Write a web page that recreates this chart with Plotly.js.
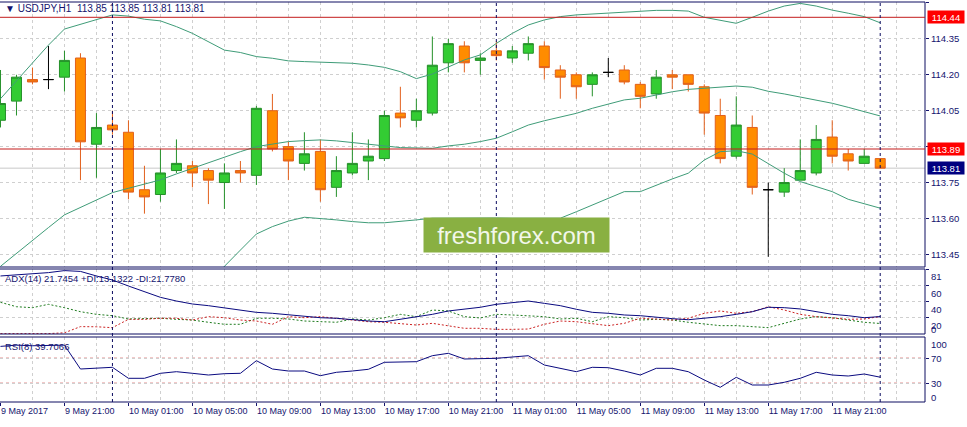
<!DOCTYPE html>
<html><head><meta charset="utf-8">
<script src="https://cdn.plot.ly/plotly-3.0.1.min.js"></script>
<style>html,body{margin:0;padding:0;background:#fff;}#chart{width:967px;height:427px;}</style>
</head><body><div id="chart"></div>
<script>
// ---- data (hourly candles, 9 May 2017 17:00 .. 12 May 2017 00:00) ----
const tickIdx = [0,4,8,12,16,20,24,28,32,36,40,44,48,52];
const tickLabels = ['9 May 2017','9 May 21:00','10 May 01:00','10 May 05:00','10 May 09:00','10 May 13:00','10 May 17:00','10 May 21:00','11 May 01:00','11 May 05:00','11 May 09:00','11 May 13:00','11 May 17:00','11 May 21:00'];
const open = [114.01,114.09,114.18,114.18,114.19,114.27,113.91,113.99,113.96,113.72,
  113.70,113.80,113.82,113.80,113.75,113.80,113.78,114.05,113.90,113.83,
  113.88,113.73,113.79,113.84,113.85,114.04,114.01,114.04,114.25,114.32,
  114.26,114.30,114.27,114.29,114.32,114.22,114.20,114.16,114.21,114.22,
  114.16,114.12,114.20,114.20,114.15,114.03,113.86,113.98,113.72,113.71,
  113.76,113.79,113.94,113.87,113.83,113.85];
const high = [114.22,114.20,114.23,114.32,114.30,114.29,114.04,114.05,114.01,113.82,
  113.89,113.93,113.84,113.81,113.83,113.84,114.07,114.12,113.92,113.96,
  113.93,113.86,113.96,113.93,114.05,114.15,114.10,114.36,114.35,114.34,
  114.29,114.34,114.32,114.36,114.34,114.24,114.21,114.21,114.27,114.24,
  114.17,114.22,114.22,114.20,114.16,114.10,114.11,114.03,113.75,113.81,
  113.93,113.99,114.01,113.89,113.89,113.85];
const low = [113.98,114.03,114.16,114.14,114.13,113.76,113.77,113.95,113.68,113.62,
  113.67,113.79,113.73,113.66,113.64,113.75,113.74,113.88,113.76,113.80,
  113.67,113.69,113.78,113.76,113.84,113.98,113.98,114.03,114.21,114.21,
  114.20,114.26,114.25,114.26,114.18,114.10,114.10,114.11,114.19,114.16,
  114.06,114.10,114.14,114.13,113.95,113.83,113.85,113.70,113.44,113.69,
  113.76,113.78,113.83,113.80,113.83,113.81];
const close = [114.08,114.19,114.17,114.18,114.26,113.92,113.98,113.97,113.71,113.69,
  113.79,113.83,113.79,113.76,113.79,113.79,114.06,113.89,113.84,113.87,
  113.72,113.80,113.83,113.86,114.03,114.02,114.05,114.24,114.33,114.25,
  114.27,114.28,114.30,114.33,114.23,114.19,114.15,114.20,114.21,114.17,
  114.11,114.19,114.19,114.16,114.04,113.85,113.99,113.73,113.72,113.75,
  113.80,113.93,113.86,113.84,113.86,113.81];
const bbUpper = [114.100,114.175,114.250,114.324,114.391,114.411,114.430,114.450,114.445,114.432,
  114.425,114.401,114.373,114.338,114.303,114.293,114.276,114.269,114.258,114.255,
  114.253,114.252,114.248,114.241,114.231,114.213,114.184,114.203,114.234,114.262,
  114.283,114.331,114.373,114.408,114.429,114.443,114.450,114.454,114.459,114.463,
  114.465,114.469,114.469,114.466,114.440,114.429,114.415,114.440,114.466,114.487,
  114.498,114.487,114.470,114.457,114.443,114.417];
const bbMiddle = [113.400,113.455,113.510,113.562,113.615,113.647,113.677,113.708,113.726,113.743,
  113.761,113.786,113.810,113.833,113.858,113.879,113.900,113.911,113.921,113.925,
  113.928,113.924,113.916,113.908,113.903,113.896,113.893,113.893,113.903,113.910,
  113.921,113.935,113.962,113.990,114.008,114.022,114.039,114.060,114.078,114.095,
  114.102,114.116,114.129,114.139,114.144,114.148,114.153,114.148,114.131,114.120,
  114.108,114.095,114.081,114.064,114.046,114.028];
const bbLower = [null,null,null,null,null,null,null,null,null,null,
  null,null,null,113.310,113.400,113.468,113.535,113.566,113.589,113.605,
  113.601,113.594,113.587,113.582,113.582,113.587,113.594,113.601,113.602,113.602,
  113.602,113.602,113.601,113.601,113.601,113.601,113.628,113.656,113.684,113.712,
  113.712,113.740,113.765,113.789,113.844,113.879,113.883,113.869,113.830,113.789,
  113.754,113.733,113.712,113.680,113.660,113.643];
const adx = [72.3,73.5,74.8,76.5,79.0,78.0,72.3,67.3,59.8,52.7,
  45.7,41.1,37.4,35.3,32.8,29.9,27.0,25.8,23.7,21.6,
  20.3,19.6,17.8,16.2,15.3,18.3,21.2,24.5,28.7,31.2,
  33.3,37.0,39.5,41.1,38.2,35.3,30.8,27.0,25.8,23.7,
  22.8,20.8,19.1,17.8,19.6,21.6,24.5,27.8,33.3,32.8,
  31.2,27.8,24.5,22.8,20.3,21.7];
const plusDI = [39.5,34.0,32.8,37.0,32.8,27.8,24.5,22.8,18.7,19.6,
  19.6,18.3,17.4,14.6,12.1,12.1,19.6,19.6,18.7,16.2,
  15.3,14.6,18.7,17.4,20.3,24.5,21.6,29.9,28.7,21.6,
  20.0,24.5,23.7,22.8,21.6,18.7,19.6,15.3,21.6,20.3,
  17.4,18.3,17.4,14.6,12.1,10.4,10.4,9.2,7.9,13.3,
  18.7,21.6,20.3,17.4,14.6,13.1];
const minusDI = [0.5,0.5,0.5,0.5,1.5,9.2,9.0,7.9,18.3,18.3,
  19.6,19.6,17.4,21.6,20.3,17.4,16.2,12.1,21.6,20.3,
  21.6,19.6,17.4,15.3,14.6,13.3,11.2,13.3,10.4,7.1,
  7.1,5.8,5.8,6.2,12.1,16.2,15.3,13.3,10.4,13.3,
  19.6,18.7,17.4,19.6,25.8,28.7,25.8,27.8,34.0,29.9,
  24.5,21.6,20.3,18.3,18.7,21.8];
const rsi = [89,91,90,90,91,52.8,54.4,55.5,37.9,37.9,
  45.9,48.5,45.9,43.2,45.3,45.9,66.1,52.8,49.6,49.6,
  42.1,47.5,49.6,52.3,63.5,63.5,64.5,74.1,77.9,68.8,
  69.5,69.9,72.0,74.1,59.2,53.9,48.5,55.5,54.9,49.6,
  43.2,53.9,53.9,48.5,35.2,23.5,39.5,27.2,27.2,31.5,
  37.9,47.5,43.2,41.6,44.8,39.7];
const priceTicks = [113.45,113.60,113.75,113.90,114.05,114.20,114.35,114.50];
const priceTickText = ['113.45','113.60','113.75','','114.05','114.20','114.35','114.50'];
const levels = [114.44, 113.89];
const bid = 113.81;
const separators = [7, 31, 55];
const rsiLevels = [70, 30];
const adxTicks = [20, 40, 60, 81];
const rsiTicks = [30, 70];
const header = '▼ USDJPY,H1  113.85 113.85 113.81 113.81';
const adxLabel = 'ADX(14) 21.7454 +DI:13.1322 -DI:21.7780';
const rsiLabel = 'RSI(8) 39.7066';

// ---- styles ----
const navy = '#14146e';
const grid = '#cfcfcf';
const FONT = 'Liberation Sans, Arial, sans-serif';
const FS = 9.5;

const xs = open.map((_, i) => i);
const idxBody = xs.filter(i => open[i] !== close[i]);
const idxDoji = xs.filter(i => open[i] === close[i]);
const pick = (a, idx) => idx.map(i => a[i]);

const traces = [
  {type:'candlestick', x:pick(xs,idxBody), open:pick(open,idxBody), high:pick(high,idxBody),
   low:pick(low,idxBody), close:pick(close,idxBody), xaxis:'x', yaxis:'y', whiskerwidth:0,
   increasing:{line:{color:'#25902a', width:1}, fillcolor:'#33cc33'},
   decreasing:{line:{color:'#e2601c', width:1}, fillcolor:'#ff8c00'}, hoverinfo:'none'},
  {type:'candlestick', x:pick(xs,idxDoji), open:pick(open,idxDoji), high:pick(high,idxDoji),
   low:pick(low,idxDoji), close:pick(close,idxDoji), xaxis:'x', yaxis:'y', whiskerwidth:0,
   increasing:{line:{color:'#000000', width:1}, fillcolor:'#000000'},
   decreasing:{line:{color:'#000000', width:1}, fillcolor:'#000000'}, hoverinfo:'none'},
  {type:'scatter', mode:'lines', x:xs, y:bbUpper, line:{color:'#3f9c78', width:1}, xaxis:'x', yaxis:'y', hoverinfo:'none'},
  {type:'scatter', mode:'lines', x:xs, y:bbMiddle, line:{color:'#3f9c78', width:1}, xaxis:'x', yaxis:'y', hoverinfo:'none'},
  {type:'scatter', mode:'lines', x:xs, y:bbLower, line:{color:'#3f9c78', width:1}, xaxis:'x', yaxis:'y', hoverinfo:'none'},
  {type:'scatter', mode:'lines', x:xs, y:plusDI, line:{color:'#1e7b1e', width:1, dash:'2px,2px'}, xaxis:'x', yaxis:'y2', hoverinfo:'none'},
  {type:'scatter', mode:'lines', x:xs, y:minusDI, line:{color:'#cc2222', width:1, dash:'2px,2px'}, xaxis:'x', yaxis:'y2', hoverinfo:'none'},
  {type:'scatter', mode:'lines', x:xs, y:adx, line:{color:'#0a0a80', width:1}, xaxis:'x', yaxis:'y2', hoverinfo:'none'},
  {type:'scatter', mode:'lines', x:xs, y:rsi, line:{color:'#0a0a80', width:1}, xaxis:'x', yaxis:'y3', hoverinfo:'none'}
];

// panel pixel layout: plot area y 2..402
const P = px => (402 - px) / 400;
const shapes = [];
[[2,267],[269,334],[337,402]].forEach(([t,b]) => shapes.push({type:'rect', xref:'paper', yref:'paper',
  x0:-0.01, x1:1, y0:P(b), y1:P(t), line:{color:'#0c0c60', width:1}, layer:'above'}));
levels.forEach(v => shapes.push({type:'line', xref:'paper', x0:0, x1:1, yref:'y', y0:v, y1:v,
  line:{color:'#c41c1c', width:1}, layer:'above'}));
shapes.push({type:'line', xref:'paper', x0:0, x1:1, yref:'y', y0:bid, y1:bid, line:{color:'#c8c8c8', width:1}, layer:'between'});
rsiLevels.forEach(v => shapes.push({type:'line', xref:'paper', x0:0, x1:1, yref:'y3', y0:v, y1:v,
  line:{color:'#cc2222', width:1, dash:'3px,3px'}, layer:'between'}));
separators.forEach(k => shapes.push({type:'line', xref:'x', x0:k, x1:k, yref:'paper', y0:0, y1:1,
  line:{color:'#0c0c60', width:1, dash:'3px,3px'}, layer:'above'}));

const annotations = [
  {xref:'paper', yref:'paper', x:0, y:P(9), xanchor:'left', yanchor:'middle', xshift:3, text:header, showarrow:false, font:{family:FONT, size:10, color:navy}},
  {xref:'paper', yref:'paper', x:0, y:P(278), xanchor:'left', yanchor:'middle', xshift:3, text:adxLabel, showarrow:false, font:{family:FONT, size:FS, color:navy}},
  {xref:'paper', yref:'paper', x:0, y:P(346), xanchor:'left', yanchor:'middle', xshift:3, text:rsiLabel, showarrow:false, font:{family:FONT, size:FS, color:navy}},
  {xref:'paper', yref:'y', x:1, y:levels[0], xanchor:'left', yanchor:'middle', xshift:2, text:levels[0].toFixed(2), showarrow:false, bgcolor:'#ff0000', width:34, height:10, borderpad:1, font:{family:FONT, size:FS, color:'#ffffff'}},
  {xref:'paper', yref:'y', x:1, y:levels[1], xanchor:'left', yanchor:'middle', xshift:2, text:levels[1].toFixed(2), showarrow:false, bgcolor:'#ff0000', width:34, height:10, borderpad:1, font:{family:FONT, size:FS, color:'#ffffff'}},
  {xref:'paper', yref:'y', x:1, y:bid, xanchor:'left', yanchor:'middle', xshift:2, text:bid.toFixed(2), showarrow:false, bgcolor:'#000080', width:34, height:10, borderpad:1, font:{family:FONT, size:FS, color:'#ffffff'}},
  {xref:'paper', yref:'paper', x:1, y:P(329), xanchor:'left', yanchor:'middle', xshift:4, text:'0', showarrow:false, font:{family:FONT, size:FS, color:navy}},
  {xref:'paper', yref:'paper', x:1, y:P(344), xanchor:'left', yanchor:'middle', xshift:4, text:'100', showarrow:false, font:{family:FONT, size:FS, color:navy}},
  {xref:'paper', yref:'paper', x:1, y:P(397), xanchor:'left', yanchor:'middle', xshift:4, text:'0', showarrow:false, font:{family:FONT, size:FS, color:navy}},
  {xref:'paper', yref:'paper', x:516.5/925, y:P(235), xanchor:'center', yanchor:'middle', text:'freshforex.com', showarrow:false,
   bgcolor:'#89b042', width:181, height:30, borderpad:2, font:{family:FONT, size:24, color:'#f2f7ea'}}
];

const yCommon = {side:'right', anchor:'x', ticks:'outside', ticklen:3, tickcolor:navy, showgrid:true, gridcolor:grid, griddash:'3px,3px',
  zeroline:false, showline:false, fixedrange:true, tickfont:{family:FONT, size:FS, color:navy}};

const layout = {
  width:967, height:427, margin:{l:0, r:42, t:2, b:25, pad:0},
  paper_bgcolor:'#ffffff', plot_bgcolor:'#ffffff', showlegend:false, hovermode:false,
  boxgap:0.375, boxgroupgap:0,
  font:{family:FONT, size:FS, color:navy},
  xaxis:{range:[-0.03, 57.8], anchor:'y3', tickmode:'array', tickvals:tickIdx, ticktext:tickLabels,
    ticks:'outside', ticklen:3, tickcolor:navy, ticklabelposition:'outside right', tickangle:0,
    showgrid:true, gridcolor:grid, griddash:'3px,3px', zeroline:false, showline:false, fixedrange:true,
    rangeslider:{visible:false}, tickfont:{family:FONT, size:9, color:navy},
    minor:{tick0:0, dtick:2, showgrid:true, gridcolor:grid, griddash:'3px,3px', ticks:''}},
  yaxis:Object.assign({}, yCommon, {domain:[0.3375, 1], range:[113.3973, 114.5039], tickmode:'array', tickvals:priceTicks, ticktext:priceTickText}),
  yaxis2:Object.assign({}, yCommon, {domain:[0.17, 0.3325], range:[0, 81], tickmode:'array', tickvals:adxTicks, ticklabelshift:8}),
  yaxis3:Object.assign({}, yCommon, {domain:[0, 0.1625], range:[0, 104], tickmode:'array', tickvals:rsiTicks}),
  shapes:shapes, annotations:annotations
};

Plotly.newPlot('chart', traces, layout, {staticPlot:true, displayModeBar:false});
</script>
</body></html>
